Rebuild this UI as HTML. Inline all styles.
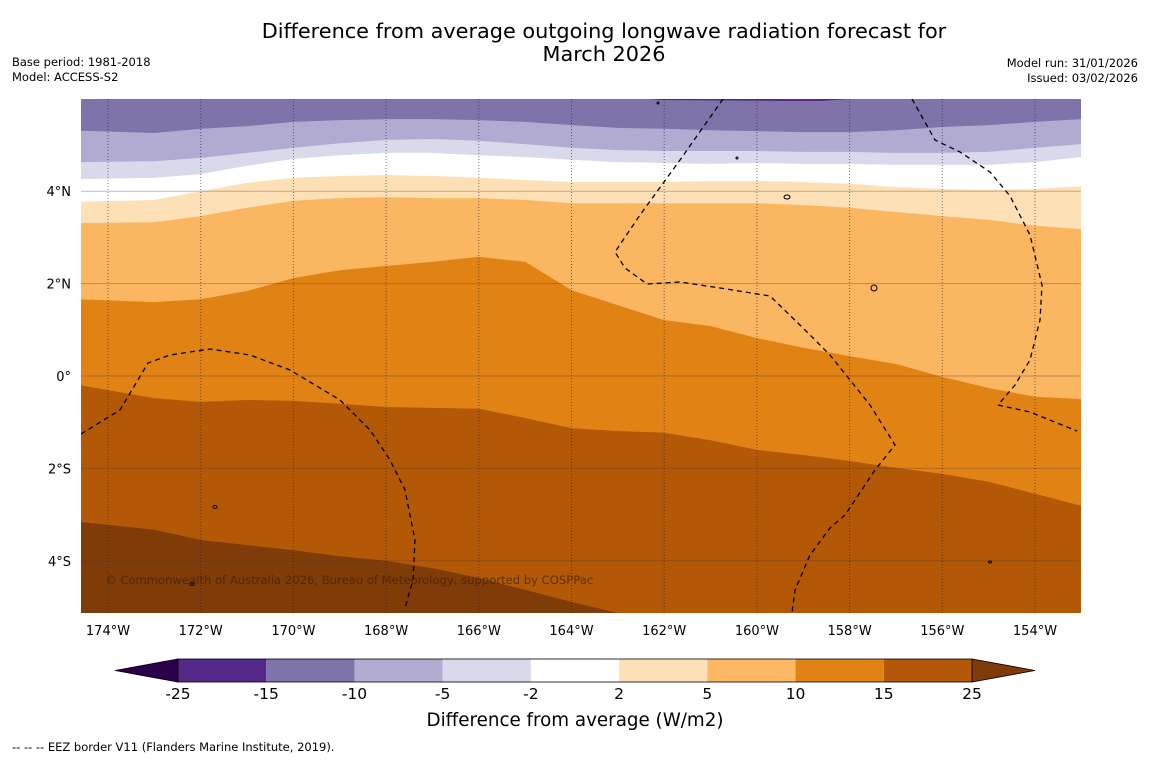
<!DOCTYPE html>
<html><head><meta charset="utf-8"><style>
body{margin:0;background:#fff;width:1150px;height:758px;overflow:hidden;font-family:"Liberation Sans","DejaVu Sans",sans-serif}
</style></head><body>
<svg width="1150" height="758" xmlns="http://www.w3.org/2000/svg" font-family="DejaVu Sans, Liberation Sans, sans-serif">
<text x="604" y="38" text-anchor="middle" font-size="20.8">Difference from average outgoing longwave radiation forecast for</text>
<text x="604" y="61" text-anchor="middle" font-size="20.8">March 2026</text>
<text x="12" y="66" font-size="11.5">Base period: 1981-2018</text>
<text x="12" y="81" font-size="11.5">Model: ACCESS-S2</text>
<text x="1138" y="67" font-size="11.5" text-anchor="end">Model run: 31/01/2026</text>
<text x="1138" y="82" font-size="11.5" text-anchor="end">Issued: 03/02/2026</text>
<defs><clipPath id="pc"><rect x="81" y="99" width="1000" height="514"/></clipPath></defs>
<g id="map" clip-path="url(#pc)"></g>
<g id="axes"></g>
<g id="cbar"></g>
<text x="575" y="726" text-anchor="middle" font-size="18.3">Difference from average (W/m2)</text>
<text x="12" y="751" font-size="11.5">--  --  -- EEZ border V11 (Flanders Marine Institute, 2019).</text>
</svg>
<script>
// data
const lons=[-174.6,-173,-172,-171,-170,-169,-168,-167,-166,-165,-164,-163,-162,-161,-160,-159,-158,-157,-156,-155,-154,-153];
const levels=[-15,-10,-5,-2,2,5,10,15,25];
const fillColors=['#7f73a9','#b1aad1','#d8d9ea','#ffffff','#fee0b6','#fbb661','#e08214','#b35806','#7f3b08'];
// boundary latitudes (deg) for each contour level, at each longitude
const b_m10=[5.31,5.26,5.35,5.41,5.5,5.54,5.56,5.56,5.54,5.5,5.43,5.37,5.35,5.32,5.3,5.28,5.28,5.32,5.39,5.43,5.5,5.56];
const b_m5=[4.63,4.65,4.72,4.83,4.94,5.04,5.11,5.13,5.09,5.02,4.94,4.89,4.87,4.87,4.87,4.85,4.85,4.83,4.83,4.85,4.94,5.02];
const b_m2=[4.26,4.29,4.37,4.55,4.7,4.78,4.83,4.83,4.78,4.74,4.68,4.63,4.61,4.59,4.61,4.59,4.59,4.57,4.57,4.57,4.63,4.74];
const b_p2=[3.77,3.81,4.0,4.18,4.29,4.33,4.35,4.33,4.29,4.24,4.2,4.2,4.2,4.22,4.22,4.2,4.16,4.09,4.05,4.03,4.05,4.11];
const b_p5=[3.31,3.33,3.46,3.64,3.79,3.85,3.87,3.85,3.85,3.81,3.74,3.74,3.74,3.74,3.74,3.7,3.64,3.55,3.46,3.38,3.25,3.18];
const b_p10=[1.66,1.6,1.66,1.84,2.12,2.29,2.38,2.47,2.58,2.47,1.86,1.53,1.21,1.08,0.82,0.61,0.43,0.26,-0.02,-0.26,-0.45,-0.5];
const b_p15=[-0.2,-0.48,-0.56,-0.52,-0.54,-0.6,-0.67,-0.69,-0.71,-0.91,-1.13,-1.19,-1.23,-1.39,-1.6,-1.71,-1.84,-1.99,-2.12,-2.29,-2.55,-2.81];
const b_p25=[-3.16,-3.33,-3.55,-3.66,-3.77,-3.9,-4.0,-4.16,-4.37,-4.63,-4.89,-5.13,-5.4,-5.5,-5.6,-5.65,-5.7,-5.75,-5.8,-5.85,-5.9,-5.95];
const boundaries=[b_m10,b_m5,b_m2,b_p2,b_p5,b_p10,b_p15,b_p25];
const lonTicks=[-174,-172,-170,-168,-166,-164,-162,-160,-158,-156,-154];
const latTicks=[4,2,0,-2,-4];
const latLabels=['4°N','2°N','0°','2°S','4°S'];
const cbTicks=['-25','-15','-10','-5','-2','2','5','10','15','25'];
const cbColors=['#542788','#8073ac','#b2abd2','#d8daeb','#ffffff','#fee0b6','#fdb863','#e08214','#b35806'];

const NS='http://www.w3.org/2000/svg';
const X=lon=>108+(lon+174)*46.35;
const Y=lat=>376-lat*46.2;
function mk(tag,attrs,parent){const e=document.createElementNS(NS,tag);for(const k in attrs)e.setAttribute(k,attrs[k]);parent.appendChild(e);return e;}
const map=document.getElementById('map');
let r=mk('rect',{x:81,y:99,width:1000,height:514,fill:fillColors[0]},map);


boundaries.forEach((b,i)=>{
  let d='M'+X(lons[0])+','+Y(b[0]);
  for(let j=1;j<lons.length;j++)d+=' L'+X(lons[j]).toFixed(1)+','+Y(b[j]).toFixed(1);
  d+=' L1081,700 L81,700 Z';
  const p=mk('path',{d:d,fill:fillColors[i+1]},map);
  
  
});
mk('path',{d:'M650,99 L850,99 L820,101 L790,101 L660,100 Z',fill:'#542788'},map);
latTicks.forEach(l=>{const g=mk('line',{x1:81,x2:1081,y1:Y(l),y2:Y(l),stroke:'rgba(90,60,50,0.35)','stroke-width':1},map);

});
lonTicks.forEach(l=>{const g=mk('line',{x1:X(l),x2:X(l),y1:99,y2:613,stroke:'rgba(40,30,50,0.6)','stroke-width':1,'stroke-dasharray':'1,2'},map);

});
const eez=['M81,434 L120,410 L148,363 L170,355 L210,349 L250,355 L290,370 L340,400 L370,430 L390,460 L405,490 L415,540 L413,580 L405,608',
'M723,99 L680,160 L640,215 L615,252 L625,268 L647,284 L680,282 L720,288 L770,296 L800,325 L830,355 L850,380 L870,405 L895,445 L875,470 L845,515 L830,528 L810,555 L795,590 L792,613',
'M912,99 L935,140 L960,152 L990,172 L1010,196 L1030,235 L1042,285 L1040,320 L1030,360 L1015,385 L998,405 L1030,412 L1077,431'];
eez.forEach(d=>{const e=mk('path',{d:d,fill:'none',stroke:'#000','stroke-width':1.3,'stroke-dasharray':'5,4'},map);

});
[[787,197,3,2],[874,288,3,3],[215,507,2,1.5],[192,584,2,1.5],[990,562,1.5,1],[658,103,1,1],[737,158,1,1]].forEach(a=>{const e=mk('ellipse',{cx:a[0],cy:a[1],rx:a[2],ry:a[3],fill:'none',stroke:'#000','stroke-width':1},map);

});
let c=mk('text',{x:105,y:584,'font-size':11.6,fill:'rgba(70,35,0,0.75)'},map);c.textContent='© Commonwealth of Australia 2026, Bureau of Meteorology, supported by COSPPac';


const axes=document.getElementById('axes');
lonTicks.forEach(l=>{const t=mk('text',{x:X(l),y:635,'text-anchor':'middle','font-size':13},axes);t.textContent=Math.abs(l)+'°W';

});
latTicks.forEach((l,i)=>{const t=mk('text',{x:71,y:Y(l)+5,'text-anchor':'end','font-size':13},axes);t.textContent=latLabels[i];

});
const cb=document.getElementById('cbar');
const cx0=178,cx1=972,cy=659,ch=23,w=(cx1-cx0)/cbColors.length;
let tl=mk('polygon',{points:`${cx0},${cy} ${cx0},${cy+ch} 115,${cy+ch/2}`,fill:'#2d004b',stroke:'#000','stroke-width':0.8},cb);


let th=mk('polygon',{points:`${cx1},${cy} ${cx1},${cy+ch} 1035,${cy+ch/2}`,fill:'#7f3b08',stroke:'#000','stroke-width':0.8},cb);


cbColors.forEach((col,i)=>{const s=mk('rect',{x:cx0+i*w,y:cy,width:w,height:ch,fill:col},cb);

});
mk('rect',{x:cx0,y:cy,width:cx1-cx0,height:ch,fill:'none',stroke:'#000','stroke-width':0.8},cb);
cbTicks.forEach((t,i)=>{const e=mk('text',{x:cx0+i*w,y:699,'text-anchor':'middle','font-size':15.5},cb);e.textContent=t;

});
</script>
</body></html>
